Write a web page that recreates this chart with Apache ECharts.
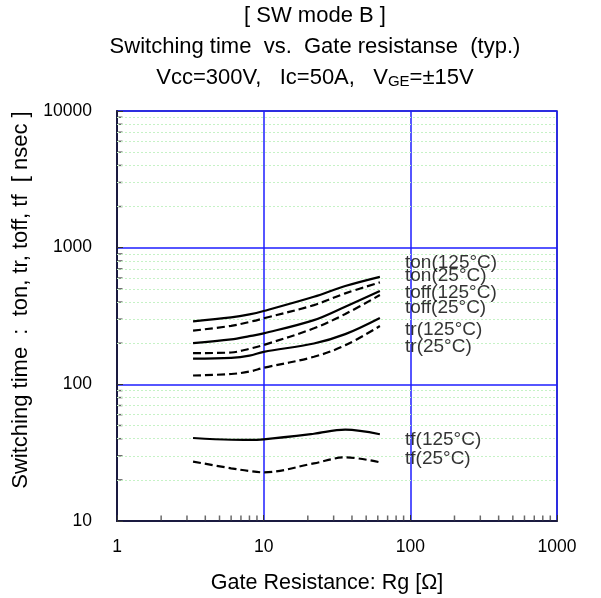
<!DOCTYPE html>
<html><head><meta charset="utf-8">
<script src="https://cdn.jsdelivr.net/npm/echarts@6/dist/echarts.min.js"></script>
<style>html,body{margin:0;padding:0;background:#fff}#c{width:601px;height:598px}</style>
</head><body><div id="c"></div>
<script>
// Gate resistance sample points [Ω]
const rg = [3.3, 6, 8, 10, 22, 36, 62];
// Switching times [nsec]
const ton125  = [289, 309, 325, 344, 437, 524, 612];
const ton25   = [247, 268, 286, 304, 380, 463, 557];
const toff125 = [200, 213, 225, 236, 295, 370, 482];
const toff25  = [169, 171, 182, 194, 257, 327, 450];
const tr125   = [154, 156, 162, 173, 199, 233, 306];
const tr25    = [116, 119, 124, 132, 159, 193, 267];
const tf125   = [40.5, 39.3, 39.2, 39.6, 43.5, 46.6, 43.1];
const tf25    = [27.2, 24.3, 23.2, 22.7, 26.4, 29.2, 26.9];
// curve labels: [Rg, time, text]
const curveLabels = [
  [92, 771, 'ton(125°C)'], [92, 620, 'ton(25°C)'],
  [92, 466, 'toff(125°C)'], [92, 361, 'toff(25°C)'],
  [92, 249, 'tr(125°C)'], [92, 187, 'tr(25°C)'],
  [92, 39.2, 'tf(125°C)'], [92, 28.4, 'tf(25°C)']
];
// tick labels / minor grid
const xTicks = [1, 10, 100, 1000];
const yTicks = [10, 100, 1000, 10000];
const xMinor = [2,3,4,5,6,7,8,9,20,30,40,50,60,70,80,90,200,300,400,500,600,700,800,900];
const yMinor = [20,30,40,50,60,70,80,90,200,300,400,500,600,700,800,900,2000,3000,4000,5000,6000,7000,8000,9000];

const FONT = 'Liberation Sans, Arial, sans-serif';
const pair = (ys) => rg.map((x, i) => [x, ys[i]]);
function curve(name, ys, dashed) {
  return {
    name, type: 'line', data: pair(ys), smooth: 0.35, symbol: 'none', z: 5,
    lineStyle: { color: '#000', width: 2.2, type: dashed ? [8, 4] : 'solid' }
  };
}
const chart = echarts.init(document.getElementById('c'));
chart.setOption({
  animation: false,
  backgroundColor: '#fff',
  graphic: [
    { type: 'text', x: 315, y: 16, style: { text: '[ SW mode B ]', font: '22px ' + FONT, fill: '#000', textAlign: 'center', textVerticalAlign: 'middle' } },
    { type: 'text', x: 315, y: 47, style: { text: 'Switching time  vs.  Gate resistanse  (typ.)', font: '22px ' + FONT, fill: '#000', textAlign: 'center', textVerticalAlign: 'middle' } },
    { type: 'text', x: 315, y: 78, style: {
      text: 'Vcc=300V,   Ic=50A,   V{s|GE}=±15V', font: '22px ' + FONT, fill: '#000', textAlign: 'center', textVerticalAlign: 'middle',
      rich: { s: { fontSize: 15, fontFamily: FONT, fill: '#000', verticalAlign: 'bottom', padding: [5, 0, 0, 0] } } } }
  ],
  grid: { left: 117, right: 44, top: 111, bottom: 77, containLabel: false, outerBoundsMode: 'none',
    show: true, borderColor: '#2a2a5a', borderWidth: 1.5 },
  xAxis: {
    type: 'log', logBase: 10, min: 1, max: 1000,
    name: 'Gate Resistance: Rg [Ω]', nameLocation: 'middle', nameGap: 51,
    nameTextStyle: { fontSize: 21.5, fontFamily: FONT, color: '#000', padding: [0, 20, 0, 0] },
    axisLine: { show: true, onZero: false, lineStyle: { color: '#1a1a40', width: 2 } },
    axisTick: { show: true, inside: true, length: 6, lineStyle: { color: '#333' } },
    axisLabel: { fontSize: 17.5, fontFamily: FONT, color: '#000', margin: 17, formatter: v => String(Math.round(v)) },
    splitLine: { show: true, lineStyle: { color: '#1e1eff', width: 1.5 } }
  },
  yAxis: {
    type: 'log', logBase: 10, min: 10, max: 10000,
    name: 'Switching time  :  ton, tr, toff, tf  [ nsec ]', nameLocation: 'middle', nameGap: 75,
    nameTextStyle: { fontSize: 22, fontFamily: FONT, color: '#000', padding: [0, 0, 0, 32] },
    axisLine: { show: true, onZero: false, lineStyle: { color: '#1a1a40', width: 2 } },
    axisTick: { show: true, inside: true, length: 6, lineStyle: { color: '#333' } },
    axisLabel: { fontSize: 17.5, fontFamily: FONT, color: '#000', margin: 25, formatter: v => String(Math.round(v)) },
    splitLine: { show: true, lineStyle: { color: '#1e1eff', width: 1.5 } }
  },
  series: [
    {
      type: 'scatter', data: [], silent: true, z: 1,
      markLine: {
        silent: true, symbol: 'none', label: { show: false }, animation: false,
        lineStyle: { color: '#c6f2c6', type: [2, 2], width: 1 },
        data: yMinor.map(v => ({ yAxis: v }))
      }
    },
    {
      type: 'scatter', silent: true, clip: false, z: 3,
      data: yMinor.map(v => [1, v]), symbol: 'rect', symbolSize: [5, 1.5], symbolOffset: [3, 0],
      itemStyle: { color: '#444' }
    },
    {
      type: 'scatter', silent: true, clip: false, z: 3,
      data: xMinor.map(v => [v, 10]), symbol: 'rect', symbolSize: [1.5, 5], symbolOffset: [0, -3],
      itemStyle: { color: '#444' }
    },
    curve('ton(125°C)', ton125, false),
    curve('ton(25°C)', ton25, true),
    curve('toff(125°C)', toff125, false),
    curve('toff(25°C)', toff25, true),
    curve('tr(125°C)', tr125, false),
    curve('tr(25°C)', tr25, true),
    curve('tf(125°C)', tf125, false),
    curve('tf(25°C)', tf25, true),
    {
      type: 'scatter', silent: true, clip: false, z: 6, symbolSize: 0,
      data: curveLabels,
      label: { show: true, position: 'right', distance: 0, fontSize: 19, fontFamily: FONT, color: '#000',
        formatter: p => p.data[2] }
    }
  ]
});
</script></body></html>
